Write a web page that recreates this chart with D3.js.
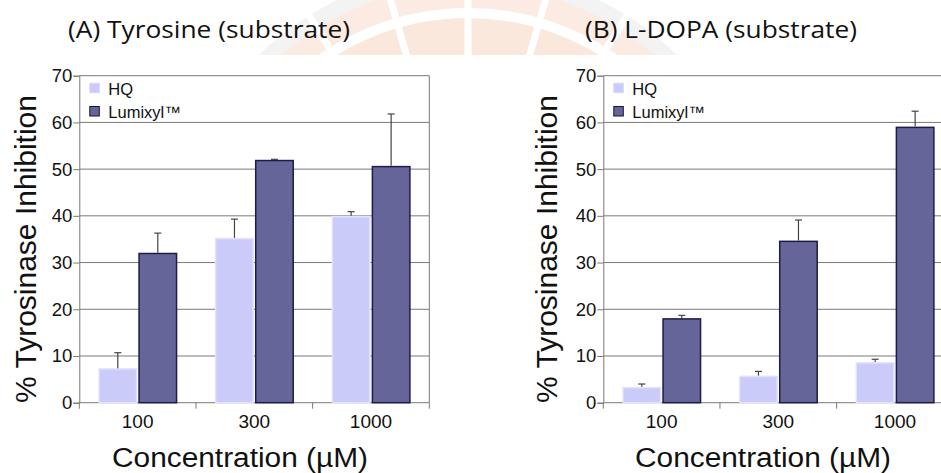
<!DOCTYPE html>
<html>
<head>
<meta charset="utf-8">
<script src="https://cdn.jsdelivr.net/npm/d3@7"></script>
<style>
  body { margin: 0; background: #fff; }
  svg { display: block; }
  text { font-family: "Liberation Sans", Arial, sans-serif; fill: #111; }
  .title { font-family: "Open Sans", "Noto Sans", sans-serif; }
</style>
</head>
<body>
<div id="chart"></div>
<script>
// data
var concentrations = ["100", "300", "1000"];
var seriesNames = ["HQ", "Lumixyl™"];
var tyrosineHQ = [7.4, 35.3, 40.0];
var tyrosineHQErr = [3.3, 4.0, 0.9];
var tyrosineLum = [32.1, 52.0, 50.7];
var tyrosineLumErr = [4.2, 0.1, 11.1];
var dopaHQ = [3.4, 5.8, 8.7];
var dopaHQErr = [0.6, 0.9, 0.6];
var dopaLum = [18.1, 34.7, 59.1];
var dopaLumErr = [0.6, 4.4, 3.3];
var yTicks = [0, 10, 20, 30, 40, 50, 60, 70];

var svgWidth = 941;
var svgHeight = 473;

var svg = d3.select("#chart")
  .append("svg")
  .attr("width", svgWidth)
  .attr("height", svgHeight);

// faint watermark behind the titles
svg.append("defs").append("clipPath").attr("id", "wm")
  .append("rect").attr("x", 0).attr("y", 0).attr("width", svgWidth).attr("height", 55);
var wm = svg.append("g").attr("clip-path", "url(#wm)")
  .append("g")
  .attr("transform", "translate(468, 270)");
wm.append("circle").attr("r", 300).attr("fill", "#f3f3f3");
wm.append("circle").attr("r", 285).attr("fill", "#fcebe2");
wm.append("circle").attr("r", 262).attr("fill", "#fff");
wm.append("circle").attr("r", 252).attr("fill", "#fbe8dd");
d3.range(-80, 81, 16).forEach(function(a) {
  var r = a * Math.PI / 180;
  wm.append("line")
    .attr("x1", 0).attr("y1", 0)
    .attr("x2", 320 * Math.sin(r)).attr("y2", -320 * Math.cos(r))
    .attr("stroke", "#fff").attr("stroke-width", 7);
});
wm.append("circle").attr("r", 205).attr("fill", "none").attr("stroke", "#eeeeee").attr("stroke-width", 10);
wm.append("circle").attr("r", 185).attr("fill", "#fdefe7");

function drawPanel(opts) {
  var plotW = 350;
  var plotH = 327;
  var g = svg.append("g")
    .attr("transform", `translate(${opts.left}, 75.7)`);

  var x = d3.scaleBand().domain(concentrations).range([0, plotW]).padding(0);
  var xSub = d3.scaleBand().domain(seriesNames).range([19, 98]).paddingInner(0.025);
  var y = d3.scaleLinear().domain([0, 70]).range([plotH, 0]);

  // grid lines
  g.append("g").selectAll("line")
    .data(yTicks.slice(1))
    .enter()
    .append("line")
    .attr("x1", 0).attr("x2", plotW)
    .attr("y1", d => y(d)).attr("y2", d => y(d))
    .attr("stroke", "#7a7a7a").attr("stroke-width", 1);
  g.append("line")
    .attr("x1", plotW).attr("x2", plotW).attr("y1", 0).attr("y2", plotH)
    .attr("stroke", "#7a7a7a");

  // y axis
  var leftAxis = d3.axisLeft(y).tickValues(yTicks).tickSize(6).tickPadding(1);
  var yAxis = g.append("g").call(leftAxis);
  yAxis.select(".domain").attr("stroke", "#7a7a7a");
  yAxis.selectAll(".tick line").attr("stroke", "#7a7a7a");
  yAxis.selectAll("text").style("font-size", "18.5px").attr("fill", "#111");

  // x axis with ticks between groups
  var xAxis = g.append("g").attr("transform", `translate(0, ${plotH})`);
  xAxis.append("line").attr("x1", 0).attr("x2", plotW).attr("stroke", "#7a7a7a");
  xAxis.selectAll(".sep")
    .data(concentrations.concat(["end"]))
    .enter()
    .append("line")
    .attr("x1", (d, i) => i * x.bandwidth()).attr("x2", (d, i) => i * x.bandwidth())
    .attr("y1", 0).attr("y2", 6)
    .attr("stroke", "#7a7a7a");
  xAxis.selectAll(".lbl")
    .data(concentrations)
    .enter()
    .append("text")
    .attr("x", d => x(d) + x.bandwidth() / 2)
    .attr("y", 25.5)
    .attr("text-anchor", "middle")
    .style("font-size", "19px")
    .text(d => d);

  var rows = concentrations.map(function(c, i) {
    return [
      { c: c, s: seriesNames[0], v: opts.hq[i], e: opts.hqErr[i] },
      { c: c, s: seriesNames[1], v: opts.lum[i], e: opts.lumErr[i] }
    ];
  }).flat();

  var colors = { "HQ": "#cbcbf9", "Lumixyl™": "#65659a" };
  var strokes = { "HQ": "#e2e2ff", "Lumixyl™": "#1c1c48" };

  g.selectAll(".bar")
    .data(rows)
    .enter()
    .append("rect")
    .attr("x", d => x(d.c) + xSub(d.s) + 0.75)
    .attr("y", d => y(d.v) + 0.75)
    .attr("width", xSub.bandwidth() - 1.5)
    .attr("height", d => plotH - y(d.v) - 0.75)
    .attr("fill", d => colors[d.s])
    .attr("stroke", d => strokes[d.s])
    .attr("stroke-width", 1.5);

  // error bars (upper only)
  var err = g.selectAll(".err").data(rows).enter().append("g");
  err.append("line")
    .attr("x1", d => x(d.c) + xSub(d.s) + xSub.bandwidth() / 2)
    .attr("x2", d => x(d.c) + xSub(d.s) + xSub.bandwidth() / 2)
    .attr("y1", d => y(d.v))
    .attr("y2", d => y(d.v + d.e))
    .attr("stroke", "#444").attr("stroke-width", 1.2);
  err.append("line")
    .attr("x1", d => x(d.c) + xSub(d.s) + xSub.bandwidth() / 2 - 3.5)
    .attr("x2", d => x(d.c) + xSub(d.s) + xSub.bandwidth() / 2 + 3.5)
    .attr("y1", d => y(d.v + d.e))
    .attr("y2", d => y(d.v + d.e))
    .attr("stroke", "#444").attr("stroke-width", 1.2);

  // legend
  var legend = g.append("g").attr("transform", "translate(10.5, 7.5)");
  seriesNames.forEach(function(s, i) {
    legend.append("rect")
      .attr("x", 0).attr("y", i * 23.3)
      .attr("width", 9.5).attr("height", 9.5)
      .attr("fill", colors[s])
      .attr("stroke", s === "HQ" ? "#d6d6ff" : "#141438");
    legend.append("text")
      .attr("x", 18.5).attr("y", i * 23.3 + 11.5)
      .style("font-size", "16.5px")
      .attr("fill", "#221")
      .text(s);
  });

  // axis titles
  svg.append("text")
    .attr("transform", `translate(${opts.yTitleX}, 249) rotate(-90)`)
    .attr("text-anchor", "middle")
    .attr("textLength", 308)
    .attr("lengthAdjust", "spacingAndGlyphs")
    .style("font-size", "29px")
    .text("% Tyrosinase Inhibition");

  svg.append("text")
    .attr("x", opts.xTitleX)
    .attr("y", 467)
    .attr("text-anchor", "middle")
    .attr("textLength", 256)
    .attr("lengthAdjust", "spacingAndGlyphs")
    .style("font-size", "27px")
    .text("Concentration (µM)");

  svg.append("text")
    .attr("class", "title")
    .attr("x", opts.titleX)
    .attr("y", 38)
    .attr("textLength", opts.titleW)
    .attr("lengthAdjust", "spacingAndGlyphs")
    .style("font-size", "23px")
    .text(opts.title);
}

drawPanel({
  left: 79.3, hq: tyrosineHQ, hqErr: tyrosineHQErr, lum: tyrosineLum, lumErr: tyrosineLumErr,
  yTitleX: 36, xTitleX: 240, titleX: 68, titleW: 282, title: "(A) Tyrosine (substrate)"
});
drawPanel({
  left: 603.3, hq: dopaHQ, hqErr: dopaHQErr, lum: dopaLum, lumErr: dopaLumErr,
  yTitleX: 557, xTitleX: 763, titleX: 585, titleW: 272, title: "(B) L-DOPA (substrate)"
});
</script>
</body>
</html>
